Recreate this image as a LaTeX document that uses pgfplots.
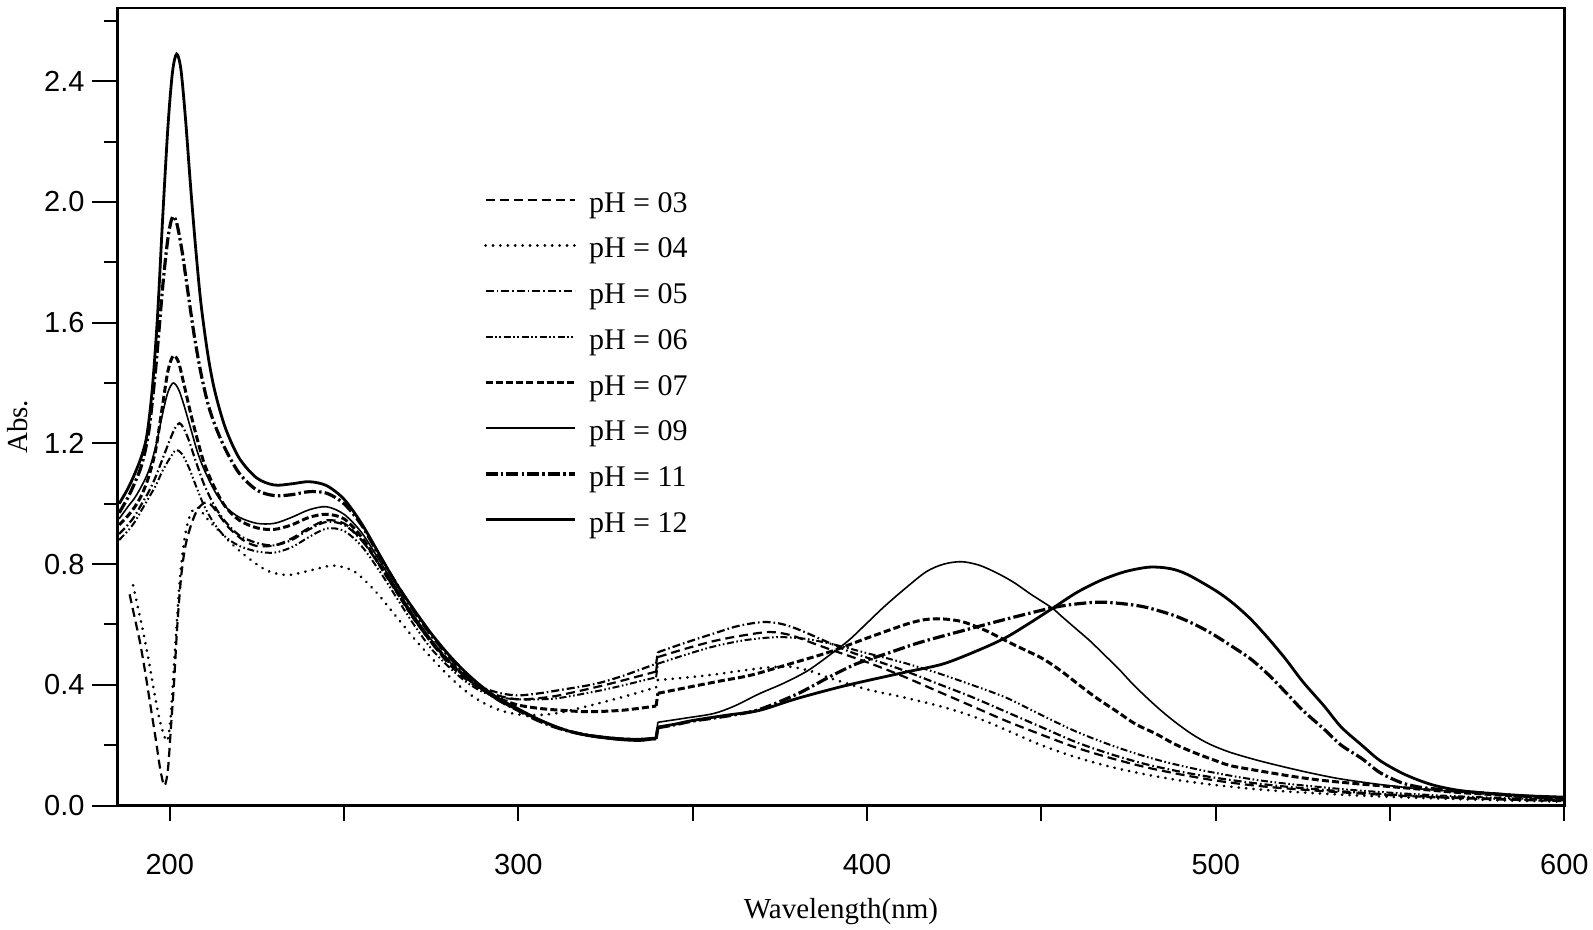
\documentclass[border=0pt]{standalone}
\usepackage{pgfplots}
\pgfplotsset{compat=1.18}
\usepackage{fontspec}
\setmainfont{Liberation Serif}
\newfontfamily\arialfont{Liberation Sans}
\tikzset{
 s03/.style={black, line width=1.1pt, dash pattern=on 4.5pt off 2.5pt},
 s04/.style={black, line width=1.4pt, line cap=round, dash pattern=on 0.1pt off 3.6pt},
 s05/.style={black, line width=1.1pt, dash pattern=on 4pt off 1.5pt on 0.8pt off 1.5pt},
 s06/.style={black, line width=1.0pt, dash pattern=on 3.5pt off 1.3pt on 0.8pt off 1.3pt on 0.8pt off 1.3pt},
 s07/.style={black, line width=1.5pt, dash pattern=on 3.5pt off 1.6pt},
 s09/.style={black, line width=0.8pt},
 s11/.style={black, line width=1.6pt, dash pattern=on 6pt off 1.6pt on 1.2pt off 1.6pt},
 s12/.style={black, line width=1.4pt},
}
\begin{document}
\begin{tikzpicture}
\path[use as bounding box] (-58.7pt,-62.2pt) rectangle (737.8pt,402.8pt);
\begin{axis}[
 at={(0,0)}, anchor=south west,
 width=723.5pt, height=398.75pt, scale only axis,
 xmin=185, xmax=600, ymin=0, ymax=2.642,
 xtick={200,300,400,500,600}, minor xtick={250,350,450,550},
 ytick={0,0.4,0.8,1.2,1.6,2.0,2.4}, minor ytick={0.2,0.6,1.0,1.4,1.8,2.2,2.6},
 xtick pos=bottom, ytick pos=left,
 tick align=outside,
 axis line style={line width=1.2pt},
 every tick/.style={black, line width=1pt},
 xtick style={/pgfplots/major tick length=7.5pt, /pgfplots/minor tick length=7.5pt},
 ytick style={/pgfplots/major tick length=12.5pt, /pgfplots/minor tick length=6.5pt},
 /pgf/number format/assume math mode=true,
 ticklabel style={font=\arialfont\fontsize{14.5}{14.5}\selectfont},
 yticklabel style={/pgf/number format/.cd, fixed, fixed zerofill, precision=1, /tikz/.cd, inner sep=0pt, xshift=-12pt},
 xticklabel style={inner sep=0pt, yshift=-20pt},
 xlabel={Wavelength(nm)}, ylabel={Abs.},
 label style={font=\fontsize{14.5}{14.5}\selectfont},
 xlabel style={at={([yshift=-53pt]axis description cs:0.5,0)}, anchor=center},
 ylabel style={at={([xshift=-50pt]axis description cs:0,0.475)}, anchor=center},
 legend cell align=left,
 legend style={draw=none, fill=none, inner sep=0pt, at={(axis cs:290.0,2.04)}, anchor=north west,
   font=\fontsize{15}{15}\selectfont, row sep=8.35pt, column sep=6.5pt,
   nodes={inner sep=0pt, text height=11pt, text depth=3.5pt}},
 legend image code/.code={\draw[#1] (0pt,2.5pt) -- (44.5pt,2.5pt);},
]
% pH 03
\addplot[s03, smooth] coordinates {(188.5,0.70) (190,0.62) (191.5,0.54) (193,0.44) (194.5,0.33) (196,0.22) (197.3,0.12) (198.5,0.066) (199.5,0.12) (200.3,0.25) (201.2,0.4) (202.2,0.6) (203.3,0.76) (204.5,0.86) (206,0.925) (207.5,0.97) (209,0.995) (210.5,1.005) (212,0.995) (214,0.965) (217,0.92) (221,0.88) (225,0.86) (230,0.862) (235,0.885) (240,0.92) (245,0.945) (250,0.935) (255,0.88) (260,0.8) (265,0.71) (270,0.62) (275,0.54) (280,0.47) (285,0.418) (290,0.382) (295,0.362) (300,0.352) (306,0.356) (312,0.366) (325,0.4) (339.5,0.444)};
\addlegendentry{pH = 03}
\addplot[s03, forget plot] coordinates {(339.5,0.444) (340,0.492)};
\addplot[s03, smooth, forget plot] coordinates {(340,0.492) (348,0.52) (356,0.545) (364,0.563) (372,0.575) (378,0.565) (384,0.54) (390,0.515) (400,0.475) (410,0.43) (420,0.38) (430,0.33) (440,0.28) (450,0.235) (460,0.192) (470,0.157) (480,0.127) (490,0.103) (500,0.083) (510,0.068) (520,0.057) (540,0.041) (560,0.029) (580,0.021) (600,0.015)};
% pH 04
\addplot[s04, smooth] coordinates {(189.5,0.73) (191,0.65) (192.5,0.57) (194,0.48) (195.5,0.38) (197,0.29) (198.3,0.235) (199.3,0.215) (200.2,0.28) (201,0.42) (202,0.6) (203,0.76) (204.2,0.88) (205.5,0.95) (207,0.985) (208.5,0.985) (210,0.96) (212,0.935) (215,0.9) (218,0.865) (222,0.825) (228,0.778) (234,0.764) (241,0.781) (247,0.795) (253,0.775) (259,0.71) (264,0.64) (270,0.555) (275,0.49) (280,0.43) (285,0.378) (290,0.34) (295,0.315) (300,0.302) (306,0.3) (312,0.308) (320,0.33) (330,0.36) (339.5,0.392)};
\addlegendentry{pH = 04}
\addplot[s04, forget plot] coordinates {(339.5,0.392) (340,0.416)};
\addplot[s04, smooth, forget plot] coordinates {(340,0.416) (348,0.424) (356,0.434) (364,0.447) (372,0.458) (378,0.46) (384,0.445) (390,0.42) (400,0.385) (410,0.36) (420,0.332) (428,0.305) (435,0.275) (442,0.24) (450,0.2) (460,0.16) (470,0.128) (480,0.103) (490,0.083) (500,0.068) (510,0.056) (520,0.047) (540,0.034) (560,0.025) (580,0.018) (600,0.013)};
% pH 05
\addplot[s05, smooth] coordinates {(185.5,0.9) (188,0.93) (190,0.96) (192,1.0) (194,1.04) (196,1.09) (198,1.15) (200,1.21) (201.5,1.25) (202.8,1.267) (204,1.25) (205.5,1.21) (207.5,1.14) (210,1.06) (213,0.99) (216,0.94) (220,0.895) (225,0.87) (230,0.862) (235,0.88) (240,0.915) (245,0.94) (250,0.93) (255,0.88) (260,0.8) (265,0.71) (270,0.62) (275,0.54) (280,0.475) (285,0.425) (290,0.39) (295,0.372) (300,0.365) (306,0.372) (312,0.383) (322,0.403) (330,0.43) (339.5,0.47)};
\addlegendentry{pH = 05}
\addplot[s05, forget plot] coordinates {(339.5,0.47) (340,0.508)};
\addplot[s05, smooth, forget plot] coordinates {(340,0.508) (348,0.54) (356,0.57) (363,0.595) (370,0.608) (375,0.603) (380,0.585) (389,0.54) (395,0.51) (400,0.49) (410,0.45) (420,0.405) (430,0.36) (440,0.31) (450,0.26) (460,0.21) (470,0.17) (480,0.137) (490,0.112) (500,0.092) (510,0.076) (520,0.063) (540,0.044) (560,0.031) (580,0.023) (600,0.018)};
% pH 06
\addplot[s06, smooth] coordinates {(185.5,0.88) (188,0.91) (190,0.94) (192,0.98) (194,1.02) (196,1.06) (198,1.11) (200,1.15) (201.8,1.178) (203.5,1.165) (205.5,1.12) (207.5,1.06) (210,0.99) (213,0.93) (216,0.89) (220,0.86) (225,0.842) (230,0.838) (235,0.856) (240,0.89) (245,0.918) (250,0.91) (255,0.86) (260,0.78) (265,0.69) (270,0.60) (275,0.52) (280,0.46) (285,0.41) (290,0.375) (295,0.358) (300,0.352) (306,0.352) (312,0.357) (325,0.385) (339.5,0.425)};
\addlegendentry{pH = 06}
\addplot[s06, forget plot] coordinates {(339.5,0.425) (340,0.47)};
\addplot[s06, smooth, forget plot] coordinates {(340,0.47) (348,0.5) (356,0.527) (365,0.548) (374,0.558) (382,0.553) (390,0.535) (400,0.505) (410,0.475) (420,0.44) (430,0.40) (440,0.357) (450,0.30) (460,0.245) (470,0.2) (480,0.162) (490,0.132) (500,0.108) (510,0.088) (520,0.073) (540,0.051) (560,0.036) (580,0.026) (600,0.02)};
% pH 07
\addplot[s07, smooth] coordinates {(185.5,0.93) (188,0.96) (190,0.99) (192,1.03) (194,1.09) (196,1.18) (198,1.33) (199.5,1.44) (201,1.49) (202.5,1.47) (204,1.40) (206,1.30) (208,1.21) (210,1.13) (213,1.05) (216,0.99) (220,0.945) (225,0.92) (230,0.915) (235,0.93) (240,0.955) (245,0.965) (250,0.95) (255,0.89) (260,0.8) (265,0.71) (270,0.62) (275,0.545) (280,0.48) (285,0.425) (290,0.382) (295,0.352) (300,0.333) (306,0.322) (312,0.316) (320,0.311) (330,0.316) (339.5,0.33)};
\addlegendentry{pH = 07}
\addplot[s07, forget plot] coordinates {(339.5,0.33) (340,0.372)};
\addplot[s07, smooth, forget plot] coordinates {(340,0.372) (350,0.395) (358,0.413) (367,0.433) (378,0.47) (389,0.508) (400,0.555) (411,0.6) (416,0.615) (420,0.619) (424,0.616) (428,0.607) (434,0.58) (440,0.545) (445,0.517) (450.5,0.486) (456,0.443) (461,0.398) (466,0.355) (472,0.309) (477,0.27) (483,0.237) (488,0.205) (493.5,0.177) (499,0.153) (504,0.133) (510,0.12) (515,0.11) (523,0.095) (531,0.083) (540,0.073) (547,0.066) (558,0.055) (569,0.044) (580,0.036) (590,0.029) (600,0.024)};
% pH 09
\addplot[s09, smooth] coordinates {(185.5,0.95) (188,0.99) (190,1.02) (192,1.06) (194,1.11) (196,1.19) (198,1.30) (199.5,1.37) (201,1.40) (202.5,1.38) (204,1.33) (206,1.25) (208,1.17) (210,1.11) (213,1.04) (216,0.99) (220,0.955) (225,0.935) (230,0.935) (235,0.955) (240,0.98) (245,0.99) (250,0.965) (255,0.905) (260,0.815) (265,0.72) (270,0.63) (275,0.55) (280,0.48) (285,0.425) (290,0.38) (295,0.343) (300,0.315) (305,0.287) (310,0.263) (315,0.245) (320,0.235) (325,0.228) (330,0.223) (335,0.222) (339.5,0.226)};
\addlegendentry{pH = 09}
\addplot[s09, forget plot] coordinates {(339.5,0.226) (340,0.276)};
\addplot[s09, smooth, forget plot] coordinates {(340,0.276) (348,0.29) (356,0.305) (362,0.33) (369,0.37) (376,0.405) (383,0.447) (390,0.505) (395,0.55) (400,0.605) (405,0.66) (411,0.72) (417,0.775) (422,0.8) (427,0.808) (432,0.797) (437,0.772) (442,0.74) (447,0.7) (453,0.655) (456,0.625) (460,0.585) (464,0.545) (468,0.5) (472,0.455) (476,0.405) (480,0.36) (484,0.318) (488,0.28) (493,0.238) (498,0.205) (504,0.177) (512,0.15) (520,0.127) (528,0.106) (536,0.088) (547,0.07) (558,0.056) (570,0.046) (580,0.039) (590,0.033) (600,0.028)};
% pH 11
\addplot[s11, smooth] coordinates {(185.5,0.97) (188,1.02) (190,1.07) (192,1.13) (194,1.24) (196,1.45) (198,1.72) (199.5,1.88) (200.8,1.95) (202,1.93) (203.5,1.84) (205,1.72) (207,1.56) (209,1.43) (211,1.33) (213,1.26) (216,1.18) (220,1.1) (225,1.045) (230,1.027) (235,1.03) (240,1.04) (245,1.035) (250,1.0) (255,0.93) (260,0.83) (265,0.735) (270,0.645) (275,0.565) (280,0.495) (285,0.435) (290,0.385) (295,0.345) (300,0.315) (305,0.285) (310,0.262) (315,0.245) (320,0.233) (325,0.225) (330,0.22) (335,0.218) (339.5,0.222)};
\addlegendentry{pH = 11}
\addplot[s11, forget plot] coordinates {(339.5,0.222) (340,0.258)};
\addplot[s11, smooth, forget plot] coordinates {(340,0.258) (345,0.268) (350,0.28) (360,0.297) (369,0.318) (380,0.37) (389,0.425) (397,0.47) (405.5,0.503) (415,0.54) (427.6,0.58) (440,0.618) (453,0.655) (460,0.668) (467,0.674) (474,0.668) (480,0.657) (488,0.63) (494,0.6) (499,0.569) (505,0.525) (510,0.486) (515,0.435) (520,0.376) (525,0.315) (531,0.254) (536,0.2) (542,0.155) (547,0.11) (553,0.077) (558,0.062) (563,0.055) (570,0.047) (580,0.039) (590,0.03) (600,0.024)};
% pH 12
\addplot[s12, smooth] coordinates {(185.5,1.0) (188,1.05) (190,1.10) (192,1.16) (193.5,1.23) (195,1.38) (196.5,1.62) (198,1.95) (199.5,2.25) (200.8,2.43) (202,2.49) (203.2,2.44) (204.5,2.28) (206,2.05) (207.5,1.84) (209,1.66) (211,1.49) (213,1.37) (216,1.25) (220,1.15) (225,1.085) (230,1.062) (235,1.066) (240,1.073) (245,1.06) (250,1.015) (255,0.935) (260,0.835) (265,0.735) (270,0.65) (275,0.57) (280,0.5) (285,0.44) (290,0.39) (295,0.35) (300,0.32) (305,0.29) (310,0.265) (315,0.245) (320,0.232) (325,0.224) (330,0.218) (335,0.216) (339.5,0.222)};
\addlegendentry{pH = 12}
\addplot[s12, forget plot] coordinates {(339.5,0.222) (340,0.26)};
\addplot[s12, smooth, forget plot] coordinates {(340,0.26) (345,0.27) (350,0.282) (360,0.30) (369,0.315) (380,0.355) (394,0.398) (411,0.442) (422,0.47) (433,0.52) (440,0.558) (446,0.60) (453,0.652) (460,0.705) (467,0.746) (474,0.775) (481,0.79) (487,0.785) (492,0.765) (500,0.712) (505,0.67) (510,0.618) (515,0.555) (520,0.486) (525,0.41) (531,0.331) (536,0.26) (542,0.199) (547,0.15) (553,0.11) (558,0.085) (563,0.066) (570,0.05) (580,0.039) (590,0.032) (600,0.028)};
\end{axis}
\end{tikzpicture}
\end{document}
